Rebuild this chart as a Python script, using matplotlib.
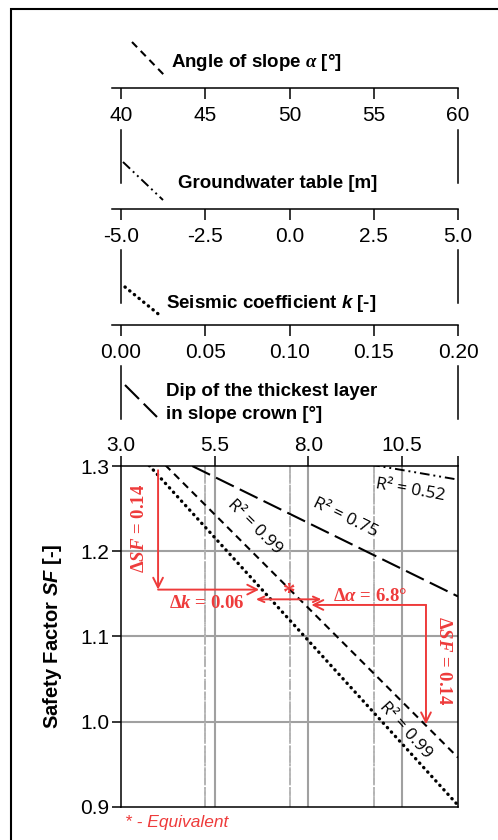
import matplotlib.pyplot as plt
from matplotlib.lines import Line2D
from matplotlib.patches import Rectangle
from matplotlib.transforms import blended_transform_factory

plt.rcParams['font.family'] = ['Liberation Sans', 'DejaVu Sans']
plt.rcParams['mathtext.fontset'] = 'custom'
plt.rcParams['mathtext.rm'] = 'Liberation Serif:bold'
plt.rcParams['mathtext.it'] = 'Liberation Serif:italic:bold'
plt.rcParams['mathtext.bf'] = 'Liberation Serif:bold'
plt.rcParams['mathtext.sf'] = 'Liberation Sans:italic:bold'

# fitted safety factor lines (end points), one per parameter
alpha = [40, 60]
sf_alpha = [1.353, 0.958]
gw = [-5.0, 5.0]
sf_gw = [1.352, 1.284]
k = [0.0, 0.2]
sf_k = [1.337, 0.902]
dip = [3.0, 12.0]
sf_dip = [1.341, 1.147]

r2_alpha = 0.99
r2_gw = 0.52
r2_k = 0.99
r2_dip = 0.75

# scales
alpha_ticks = [40, 45, 50, 55, 60]
alpha_labels = ['40', '45', '50', '55', '60']
gw_ticks = [-5.0, -2.5, 0.0, 2.5, 5.0]
gw_labels = ['-5.0', '-2.5', '0.0', '2.5', '5.0']
k_ticks = [0.0, 0.05, 0.10, 0.15, 0.20]
k_labels = ['0.00', '0.05', '0.10', '0.15', '0.20']
dip_ticks = [3.0, 5.5, 8.0, 10.5, 12.0]
dip_labels = ['3.0', '5.5', '8.0', '10.5', '']
sf_ticks = [0.9, 1.0, 1.1, 1.2, 1.3]
sf_labels = ['0.9', '1.0', '1.1', '1.2', '1.3']

# sensitivity example
d_sf = 0.14
d_k = 0.06
d_alpha = 6.8
k_start, sf_left_top = 0.022, 1.295
alpha_start, sf_right_top = 58.1, 1.137
k_equiv, sf_equiv = 0.100, 1.150
k_pair = [0.080, 0.119]
sf_pair = 1.1436

RED = '#ee3b3b'
GRID = '#a0a0a0'
GRID2 = '#b4b4b4'

st_alpha = dict(lw=1.5, ls=(0, (3.5, 2.5)))
st_gw = dict(lw=1.4, ls=(0, (5, 2, 1, 2, 1, 2)))
st_k = dict(lw=2.4, ls=(0, (0.1, 1.7)), dash_capstyle='round')
st_dip = dict(lw=1.5, ls=(0, (9.5, 3.2)))

W, H = 498, 840
fig = plt.figure(figsize=(W / 100, H / 100), dpi=100)


def fx(x):
    return x / W


def fy(y):
    return 1 - y / H


def rect(x0, y0, x1, y1):
    return [fx(x0), fy(y1), (x1 - x0) / W, (y1 - y0) / H]


# outer frame
fig.add_artist(Rectangle((fx(11), fy(900)), 1.0, fy(9) - fy(900),
                         transform=fig.transFigure, fill=False, lw=1.5, ec='k'))

# ---- main chart (dip scale on the main x axis) ----
ax = fig.add_axes(rect(121, 466, 458, 807))
ax_g = ax.twiny()
ax_a = ax.twiny()
ax_k = ax.twiny()
for t in (ax_g, ax_a, ax_k):
    t.axis('off')
ax_g.set_xlim(gw_ticks[0], gw_ticks[-1])
ax_a.set_xlim(alpha_ticks[0], alpha_ticks[-1])
ax_k.set_xlim(k_ticks[0], k_ticks[-1])

ax.set_xlim(dip_ticks[0], dip_ticks[-1])
ax.set_ylim(sf_ticks[0], sf_ticks[-1])
for s in ax.spines.values():
    s.set_linewidth(1.1)
ax.set_xticks(dip_ticks, dip_labels)
ax.set_yticks(sf_ticks, sf_labels)
ax.xaxis.tick_top()
ax.tick_params(axis='x', direction='out', length=7, width=1.1, pad=1, labelsize=15)
ax.tick_params(axis='y', direction='out', length=6.5, width=1.1, pad=2, labelsize=15)
for t, v in zip(ax.xaxis.get_major_ticks(), dip_ticks):
    c = 'k' if v in (dip_ticks[0], dip_ticks[-1]) else GRID
    t.tick1line.set_color(c)
    t.tick2line.set_color(c)
for t, v in zip(ax.yaxis.get_major_ticks(), sf_ticks):
    t.tick1line.set_color('k' if v in (sf_ticks[0], sf_ticks[-1]) else GRID)
ax.set_ylabel('Safety Factor $\\mathsf{SF}$ [-]', fontsize=14.5, fontweight='bold')
ax.yaxis.set_label_coords(-0.168, 0.5)

for v in dip_ticks[1:-1]:
    ax.axvline(v, color=GRID, lw=1.5, zorder=1)
for v in sf_ticks[1:-1]:
    ax.axhline(v, color=GRID, lw=1.5, zorder=1)

# gridlines of the other scales (they coincide in x)
for twin, ticks, st in ((ax_a, alpha_ticks, (0, (4, 2))),
                        (ax_g, gw_ticks, (0, (5, 2, 1, 2, 1, 2))),
                        (ax_k, k_ticks, (0, (1, 1.5)))):
    trf = blended_transform_factory(twin.transData, ax.transAxes)
    for v in ticks[1:-1]:
        ax.add_artist(Line2D([v, v], [0, 1], transform=trf, color=GRID2, lw=1.3, ls=st, zorder=1))

ax.plot(dip, sf_dip, color='k', **st_dip)
ax_g.plot(gw, sf_gw, color='k', **st_gw)
ax_a.plot(alpha, sf_alpha, color='k', **st_alpha)
ax_k.plot(k, sf_k, color='k', **st_k)

r2 = dict(fontsize=12.5, family=['Open Sans', 'DejaVu Sans'], ha='center', va='center',
          rotation_mode='anchor')
ax.text(8.98, 1.239, f'R² = {r2_dip:.2f}', rotation=-26, **r2)
ax_g.text(3.58, 1.272, f'R² = {r2_gw:.2f}', rotation=-10, **r2)
ax_a.text(47.95, 1.228, f'R² = {r2_alpha:.2f}', rotation=-45, **r2)
ax_k.text(0.1686, 0.990, f'R² = {r2_k:.2f}', rotation=-48, **r2)

# sensitivity arrows
arr = dict(arrowstyle='->,head_length=0.7,head_width=0.35', color=RED, lw=1.4,
           shrinkA=0, shrinkB=0)
red = dict(color=RED, family='Liberation Serif', fontweight='bold', fontsize=13.5,
           ha='center', va='center')
ax_k.annotate('', xy=(k_start, sf_left_top - d_sf), xytext=(k_start, sf_left_top), arrowprops=arr)
ax_k.annotate('', xy=(k_start + d_k, sf_left_top - d_sf), xytext=(k_start, sf_left_top - d_sf),
              arrowprops=arr)
ax_k.text(0.0107, 1.227, f'$\\Delta SF$ = {d_sf:.2f}', rotation=90, **red)
ax_k.text(0.051, 1.139, f'$\\Delta k$ = {d_k:.2f}', **red)

ax_a.annotate('', xy=(alpha_start - d_alpha, sf_right_top), xytext=(alpha_start, sf_right_top),
              arrowprops=arr)
ax_a.annotate('', xy=(alpha_start, sf_right_top - d_sf), xytext=(alpha_start, sf_right_top),
              arrowprops=arr)
ax_a.text(59.11, 1.0713, f'$\\Delta SF$ = {d_sf:.2f}', rotation=-90, **red)
ax_a.text(54.78, 1.1475, f'$\\Delta\\alpha$ = {d_alpha}°', **red)

ax_k.annotate('', xy=(k_pair[1], sf_pair), xytext=(k_pair[0], sf_pair),
              arrowprops=dict(arrowstyle='<->,head_length=0.45,head_width=0.2', color=RED,
                              lw=1.4, shrinkA=0, shrinkB=0))
ax_k.text(k_equiv, sf_equiv, '*', color=RED, family='Liberation Serif', fontweight='bold',
          fontsize=18, ha='center', va='center')
ax.text(0.012, -0.044, '* - Equivalent', transform=ax.transAxes, color=RED, style='italic',
        fontsize=12.5, va='center')


# ---- stacked scales above the chart ----
def scale_axes(y_top, y_line, ticks, labels, spine_from=None):
    a = fig.add_axes(rect(112, y_top, 458, y_line))
    lo, hi = ticks[0], ticks[-1]
    a.set_xlim(lo - (hi - lo) * 9 / 337, hi)
    a.set_ylim(0, 1)
    a.patch.set_visible(False)
    a.spines['top'].set_visible(False)
    a.spines['bottom'].set_linewidth(1.1)
    a.set_xticks(ticks, labels)
    a.set_yticks([])
    a.tick_params(axis='x', direction='out', length=8, width=1.1, pad=5, labelsize=15)
    for t, v in zip(a.xaxis.get_major_ticks(), ticks):
        t.tick1line.set_color('k' if v in (lo, hi) else GRID)
    if spine_from is None:
        a.spines['left'].set_visible(False)
        a.spines['right'].set_visible(False)
    else:
        a.spines['left'].set_position(('data', lo))
        for s in ('left', 'right'):
            a.spines[s].set_bounds(spine_from, 1)
            a.spines[s].set_linewidth(1.1)
    return a


scale_axes(15, 88, alpha_ticks, alpha_labels)
scale_axes(130, 209, gw_ticks, gw_labels, spine_from=0.329)
scale_axes(250, 325, k_ticks, k_labels, spine_from=0.293)

hd = fig.add_axes(rect(121, 366, 458, 419))
hd.patch.set_visible(False)
hd.set_xticks([])
hd.set_yticks([])
hd.spines['top'].set_visible(False)
hd.spines['bottom'].set_visible(False)
for s in ('left', 'right'):
    hd.spines[s].set_linewidth(1.1)

title = dict(fontsize=13.5, fontweight='bold', va='baseline', ha='left')
fig.text(fx(171), fy(67), 'Angle of slope $\\alpha$ [°]', **title)
fig.text(fx(178), fy(188), 'Groundwater table [m]', **title)
fig.text(fx(166), fy(308), 'Seismic coefficient $\\mathsf{k}$ [-]', **title)
fig.text(fx(166), fy(396), 'Dip of the thickest layer', **title)
fig.text(fx(166), fy(419), 'in slope crown [°]', **title)

for (x0, y0, x1, y1), st in (((132, 42, 166, 77), st_alpha),
                             ((123, 162, 163, 200), st_gw),
                             ((125, 287, 162, 317), st_k),
                             ((125, 385, 157, 417), st_dip)):
    fig.add_artist(Line2D([fx(x0), fx(x1)], [fy(y0), fy(y1)], transform=fig.transFigure,
                          color='k', **st))

fig.savefig('out.png', dpi=100, facecolor='white')
